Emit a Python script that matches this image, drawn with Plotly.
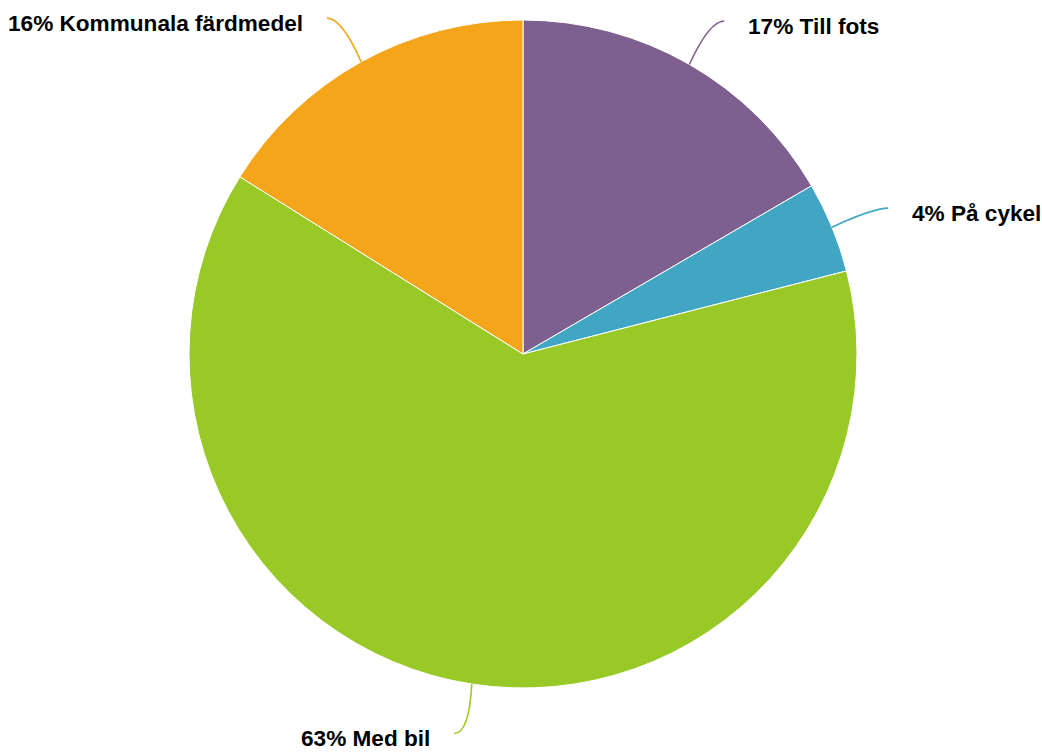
import math
import plotly.graph_objects as go

labels = ["Till fots", "På cykel", "Med bil", "Kommunala färdmedel"]
values = [16.6, 4.4, 62.9, 16.1]
colors = ["#7e6090", "#41a5c4", "#98c926", "#f5a51a"]

W, H = 1042, 755
CX, CY, R = 523, 354, 334

def px(x):
    return x / W

def py(y):
    return 1 - y / H

fig = go.Figure(go.Pie(
    labels=labels, values=values, sort=False, direction="clockwise", rotation=0,
    marker=dict(colors=colors, line=dict(color="white", width=1)),
    textinfo="none", hoverinfo="label+percent", showlegend=False,
    domain=dict(x=[px(CX - 420), px(CX + 420)], y=[py(CY + R), py(CY - R)]),
))

total = sum(values)
cum = 0
shapes, annots = [], []
for lab, v, c in zip(labels, values, colors):
    mid = (cum + v / 2) / total * 2 * math.pi
    cum += v
    sx, sy = math.sin(mid), -math.cos(mid)
    x0, y0 = CX + R * sx, CY + R * sy
    side = 1 if sx >= 0 else -1
    ex, ey = x0 + 50 * sx + 10 * side, y0 + 50 * sy
    cx, cy = ex - 15 * side, ey
    path = f"M {px(x0)},{py(y0)} Q {px(cx)},{py(cy)} {px(ex)},{py(ey)}"
    shapes.append(dict(type="path", path=path, xref="paper", yref="paper",
                       line=dict(color=c, width=1.6)))
    pct = round(v / total * 100)
    annots.append(dict(
        x=px(ex + 22 * side), y=py(ey + 5), xref="paper", yref="paper",
        text=f"<b>{pct}% {lab}</b>", showarrow=False,
        xanchor="left" if side > 0 else "right", yanchor="middle",
        font=dict(family="Liberation Sans, Arial, sans-serif", size=22.6, color="#000000"),
    ))

fig.update_layout(
    width=W, height=H, autosize=False,
    margin=dict(l=0, r=0, t=0, b=0),
    paper_bgcolor="white", plot_bgcolor="white",
    shapes=shapes, annotations=annots,
)
fig.write_html(
    "out.html",
    config={"displayModeBar": False},
    post_script="document.body.style.margin='0';document.body.style.overflow='hidden';",
)
